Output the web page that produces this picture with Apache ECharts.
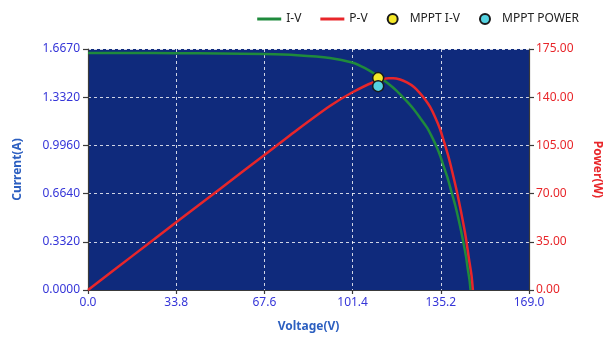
<!DOCTYPE html>
<html>
<head>
<meta charset="utf-8">
<script src="https://cdn.jsdelivr.net/npm/echarts@6/dist/echarts.min.js"></script>
<style>
html,body{margin:0;padding:0;background:#fff;}
#chart{width:607px;height:339px;}
</style>
</head>
<body>
<div id="chart"></div>
<script>
// ---- data ----
var ivVoltage = [0, 16.9, 33.8, 50.7, 67.6, 80.1, 92.7, 101.2, 106.0, 111.1, 115.0, 118.4, 121.5, 124.6, 127.3, 130.0, 132.0, 133.7, 135.0, 136.2, 137.8, 139.4, 140.7, 141.8, 142.9, 143.9, 144.9, 145.6, 146.2, 146.6];
var ivCurrent = [1.640, 1.639, 1.638, 1.636, 1.632, 1.624, 1.605, 1.574, 1.536, 1.480, 1.428, 1.376, 1.318, 1.255, 1.190, 1.121, 1.052, 0.986, 0.927, 0.861, 0.775, 0.671, 0.588, 0.505, 0.415, 0.325, 0.228, 0.138, 0.069, 0];
var pvVoltage = [0, 16.9, 33.8, 50.7, 67.6, 80.1, 92.7, 101.2, 109.2, 115.3, 116.9, 119.6, 122.2, 124.9, 127.2, 129.2, 131.1, 133.0, 134.9, 136.4, 138.0, 139.7, 141.4, 142.9, 144.7, 146.0, 147.0, 147.5];
var pvPower = [0, 24.6, 49.2, 73.6, 98.0, 116.2, 133.6, 143.4, 150.7, 153.7, 153.7, 152.8, 150.7, 147.4, 143.0, 138.3, 132.9, 125.6, 116.9, 107.8, 97.7, 85.0, 71.1, 57.3, 39.2, 22.5, 10.2, 0];
var mpptVoltage = [111.2];
var mpptCurrent = [1.466];
var mpptPower = [148.0];
var xTickLabels = ['0.0', '33.8', '67.6', '101.4', '135.2', '169.0'];
var leftTickLabels = ['0.0000', '0.3320', '0.6640', '0.9960', '1.3320', '1.6670'];
var rightTickLabels = ['0.00', '35.00', '70.00', '105.00', '140.00', '175.00'];
var seriesNames = ['I-V', 'P-V', 'MPPT I-V', 'MPPT POWER'];

function zip(a, b) { return a.map(function (v, i) { return [v, b[i]]; }); }

var FONT = 'Noto Sans';
var xMax = 169, leftMax = 1.667, rightMax = 175;
var chart = echarts.init(document.getElementById('chart'), null, {renderer: 'canvas'});
var axisLineStyle = {color: '#3a3a3a', width: 1.2};
var gridLine = {show: true, lineStyle: {color: 'rgba(255,255,255,0.8)', type: [3, 3], width: 1}};
var lineIcon = 'path://M0,0 L24,0 L24,3 L0,3 Z';

chart.setOption({
  animation: false,
  backgroundColor: '#ffffff',
  legend: {
    top: 8, right: 23,
    itemWidth: 24, itemHeight: 10, itemGap: 19,
    textStyle: {fontFamily: FONT, fontSize: 12, color: '#222'},
    data: [
      {name: seriesNames[0], icon: lineIcon},
      {name: seriesNames[1], icon: lineIcon},
      {name: seriesNames[2], icon: 'circle'},
      {name: seriesNames[3], icon: 'circle'}
    ]
  },
  grid: {left: 88, right: 78, top: 49, bottom: 49, show: true, backgroundColor: '#0f2a7c', borderWidth: 0,
    containLabel: false, outerBoundsMode: 'none'},
  xAxis: {
    type: 'value', min: 0, max: xMax, interval: xMax / 5,
    name: 'Voltage(V)', nameLocation: 'middle', nameGap: 31,
    nameTextStyle: {fontFamily: FONT, fontSize: 12, fontWeight: 'bold', color: '#2c5fc0'},
    axisLine: {show: true, lineStyle: axisLineStyle},
    axisTick: {show: true, length: 4, lineStyle: axisLineStyle},
    axisLabel: {fontFamily: FONT, fontSize: 12, color: '#3535d8', margin: 7,
      formatter: function (v) { return xTickLabels[Math.round(v / (xMax / 5))]; }},
    splitLine: gridLine
  },
  yAxis: [
    {
      type: 'value', min: 0, max: leftMax, interval: leftMax / 5, position: 'left',
      name: 'Current(A)', nameLocation: 'middle', nameGap: 64, nameRotate: 90,
      nameTextStyle: {fontFamily: FONT, fontSize: 12, fontWeight: 'bold', color: '#2c5fc0'},
      axisLine: {show: true, lineStyle: axisLineStyle},
      axisTick: {show: true, length: 5, lineStyle: axisLineStyle},
      axisLabel: {fontFamily: FONT, fontSize: 12, color: '#3535d8', margin: 8,
        formatter: function (v) { return leftTickLabels[Math.round(v / (leftMax / 5))]; }},
      splitLine: gridLine
    },
    {
      type: 'value', min: 0, max: rightMax, interval: rightMax / 5, position: 'right',
      name: 'Power(W)', nameLocation: 'middle', nameGap: 62, nameRotate: -90,
      nameTextStyle: {fontFamily: FONT, fontSize: 12, fontWeight: 'bold', color: '#e8262a'},
      axisLine: {show: true, lineStyle: axisLineStyle},
      axisTick: {show: true, length: 5, lineStyle: axisLineStyle},
      axisLabel: {fontFamily: FONT, fontSize: 12, color: '#e8262a', margin: 7,
        formatter: function (v) { return rightTickLabels[Math.round(v / (rightMax / 5))]; }},
      splitLine: {show: false}
    }
  ],
  series: [
    {name: seriesNames[0], type: 'line', yAxisIndex: 0, data: zip(ivVoltage, ivCurrent),
      smooth: 0.2, symbol: 'none', lineStyle: {color: '#1f8a3c', width: 2.5}, itemStyle: {color: '#1f8a3c'}, z: 2},
    {name: seriesNames[1], type: 'line', yAxisIndex: 1, data: zip(pvVoltage, pvPower),
      smooth: 0.2, symbol: 'none', lineStyle: {color: '#e8262a', width: 2.5}, itemStyle: {color: '#e8262a'}, z: 3},
    {name: seriesNames[2], type: 'scatter', yAxisIndex: 0, data: zip(mpptVoltage, mpptCurrent),
      symbol: 'circle', symbolSize: 11, itemStyle: {color: '#f4e829', borderColor: '#1a1a1a', borderWidth: 1.5, opacity: 1}, z: 4},
    {name: seriesNames[3], type: 'scatter', yAxisIndex: 1, data: zip(mpptVoltage, mpptPower),
      symbol: 'circle', symbolSize: 11, itemStyle: {color: '#55d3e2', borderColor: '#1a1a1a', borderWidth: 1.5, opacity: 1}, z: 5}
  ]
});
</script>
</body>
</html>
